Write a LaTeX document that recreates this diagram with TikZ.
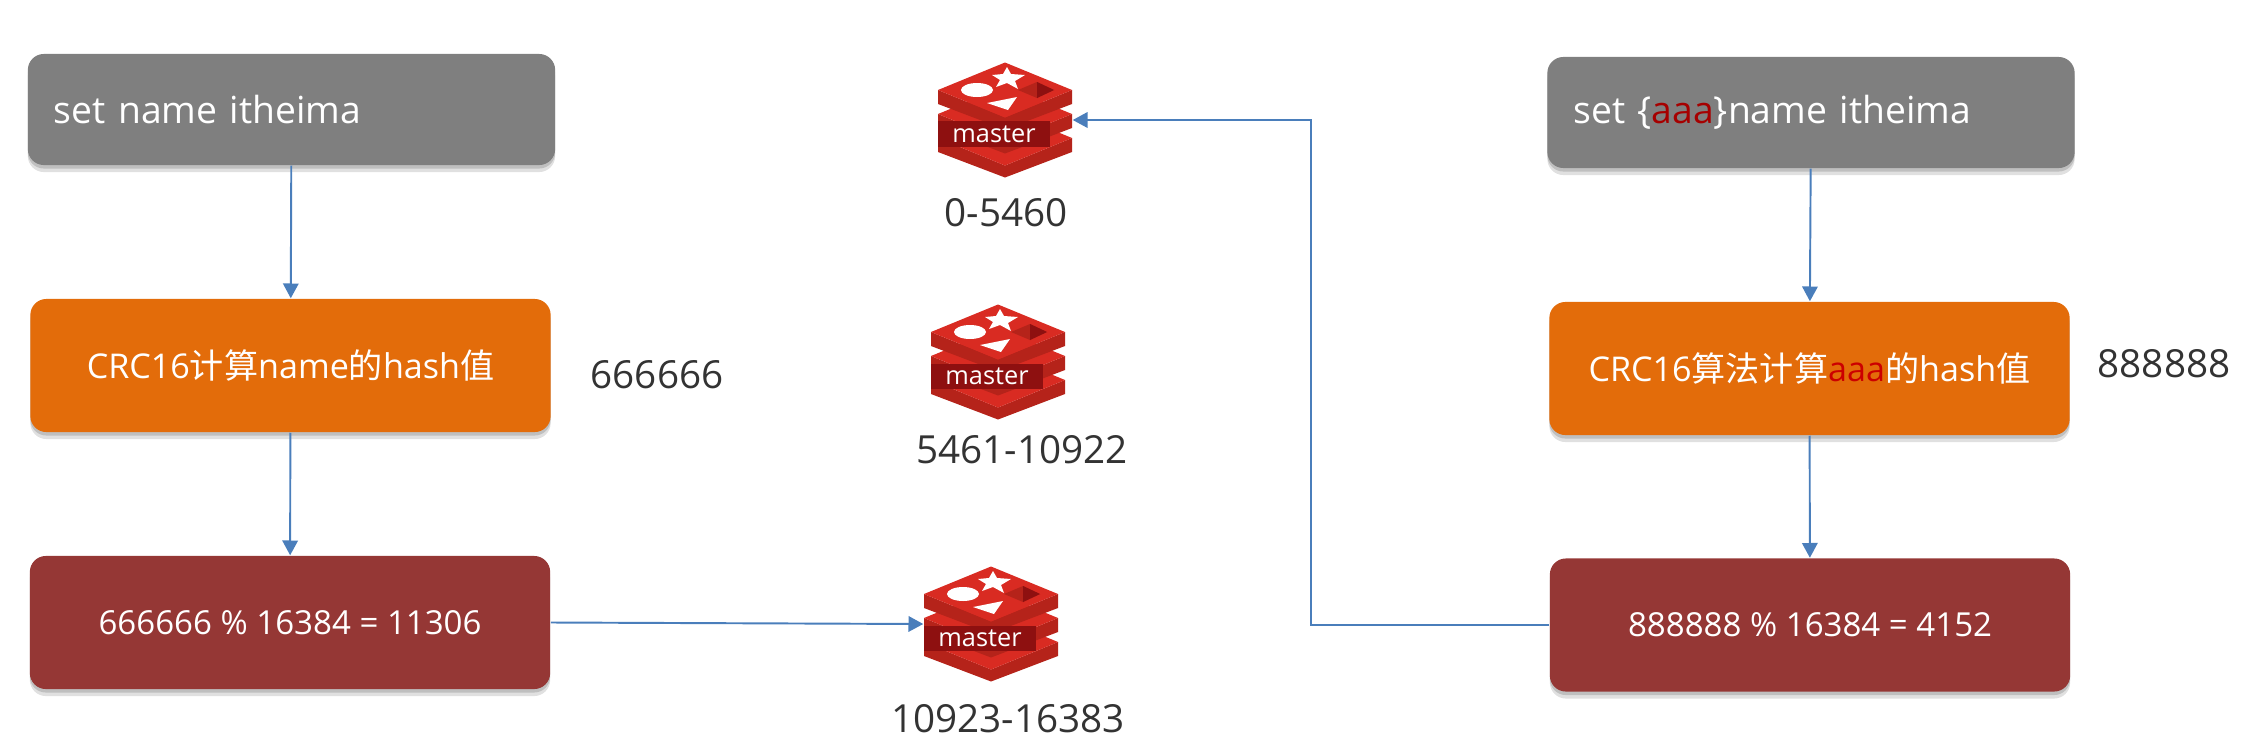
\documentclass[tikz,border=0pt]{standalone}
\usepackage{fontspec}
\setmainfont{Open Sans}
\newfontfamily\cjk{Noto Sans CJK SC}
\usetikzlibrary{arrows.meta,shadows}
\definecolor{flowblue}{HTML}{4A7EBB}
\definecolor{boxgray}{HTML}{7F7F7F}
\definecolor{boxorange}{HTML}{E36C0A}
\definecolor{boxred}{HTML}{953735}
\definecolor{numgray}{HTML}{333333}
\definecolor{redisface}{HTML}{D92B22}
\definecolor{redisside}{HTML}{B5231A}
\definecolor{redisdark}{HTML}{8E1010}
\tikzset{
  flow/.style={draw=flowblue, line width=0.55pt, -{Triangle[width=4.4pt,length=4.2pt]}},
  hashbox/.style={rounded corners=0.16cm, text=white, inner sep=0pt, align=center,
    drop shadow={shadow xshift=0pt, shadow yshift=-0.07cm, opacity=0.12, fill=black},
    drop shadow={shadow xshift=0pt, shadow yshift=-0.035cm, opacity=0.15, fill=black}},
  cmdbox/.style={hashbox, fill=boxgray, inner xsep=0.26cm, align=left, text width=4.75cm,
    minimum height=1.11cm, font=\fontsize{10.6}{13}\selectfont},
  calcbox/.style={hashbox, fill=boxorange, minimum width=5.2cm, minimum height=1.33cm,
    font=\fontsize{9.7}{12}\selectfont},
  modbox/.style={hashbox, fill=boxred, minimum width=5.2cm, minimum height=1.33cm,
    font=\fontsize{9.4}{12}\selectfont},
  numlabel/.style={text=numgray, inner sep=0pt, font=\fontsize{11}{13}\selectfont},
  master/.pic={
    \foreach \ly in {18,-6,-30} {
      \fill[redisside] (-67,\ly) -- (0,\ly+27.5) -- (67,\ly) -- (67,\ly+14) -- (0,\ly+39.5) -- (-67,\ly+14) -- cycle;
      \fill[redisface] (-67,\ly) -- (0,\ly-27.5) -- (67,\ly) -- (0,\ly+27.5) -- cycle;
    }
    \fill[white] (-28,-30) ellipse [x radius=16, y radius=7];
    \fill[white] (2,-53) -- (6,-46) -- (20,-45) -- (10,-39) -- (13,-31) -- (2,-37) -- (-9,-33) -- (-5,-40) -- (-13,-45) -- (-2,-46) -- cycle;
    \fill[white] (-18,-17) -- (12,-23) -- (3,-10) -- cycle;
    \fill[redisside] (13,-30) -- (32,-38) -- (49,-30) -- (32,-22) -- cycle;
    \fill[redisdark] (32,-38) -- (49,-30) -- (32,-22) -- cycle;
    \node[fill=redisdark, text=white, inner sep=0pt, minimum width=1.12cm, minimum height=0.25cm,
      font=\fontsize{7.2}{10}\selectfont] at (-11,14) {master};
    \node[inner sep=0pt, minimum width=1.34cm, minimum height=1.14cm] (-icon) at (0,0) {};
  }
}
\begin{document}
\begin{tikzpicture}[x=0.01cm, y=-0.01cm]
    \useasboundingbox (0,0) rectangle (2245,748);
    % left column
    \node[cmdbox] (setL) at (291.5,109.5) {set name itheima};
    \node[calcbox] (calcL) at (290.5,365.5) {CRC16{\cjk 计算}name{\cjk 的}hash{\cjk 值}};
    \node[modbox] (modL) at (290,622.5) {666666 \% 16384 = 11306};
    \node[numlabel] (numL) at (657,375) {666666};
    % masters
    \pic (mA) at (1005,120) {master};
    \pic (mB) at (998,362) {master};
    \pic (mC) at (991,624) {master};
    \node[numlabel] (rangeA) at (1006,213) {0-5460};
    \node[numlabel] (rangeB) at (1022,450) {5461-10922};
    \node[numlabel] (rangeC) at (1008,719) {10923-16383};
    % right column
    \node[cmdbox] (setR) at (1811,112.5) {set \{\textcolor{red!65!black}{aaa}\}name itheima};
    \node[calcbox] (calcR) at (1809.5,368.5) {CRC16{\cjk 算法计算}\textcolor{red!80!black}{aaa}{\cjk 的}hash{\cjk 值}};
    \node[modbox] (modR) at (1810,625) {888888 \% 16384 = 4152};
    \node[numlabel] (numR) at (2164,364) {888888};
    % connectors
    \draw[flow] (setL) -- (calcL);
    \draw[flow] (calcL) -- (modL);
    \draw[flow] (modL.east) -- (mC-icon.west);
    \draw[flow] (setR) -- (calcR);
    \draw[flow] (calcR) -- (modR);
    \draw[flow] (modR.west) -- (1311,625) -- (1311,120) -- (mA-icon.east);
\end{tikzpicture}
\end{document}
